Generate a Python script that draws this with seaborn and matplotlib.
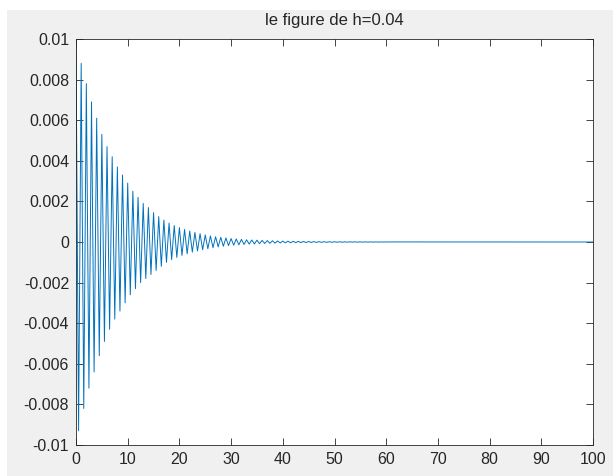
import matplotlib
matplotlib.use("Agg")
import matplotlib.pyplot as plt
from matplotlib.patches import Rectangle
import seaborn as sns
import numpy as np
import pandas as pd

# ---- data: extrema of the damped oscillation ----
peak_t = [0, 1, 2, 3, 4, 5, 6, 7, 8, 9, 10, 11, 12, 13, 14, 15, 16, 17, 18, 19,
          20, 21, 22, 23, 24, 25, 26, 27, 28, 29, 30, 31, 32, 33, 34, 35, 36, 37, 38, 39,
          40, 41, 42, 43, 44, 45, 46, 47, 48, 49, 50, 51, 52, 53, 54, 55, 56, 57, 58, 59, 60]
peak_v = [0.0100, 0.0088, 0.0078, 0.0069, 0.0061, 0.0053, 0.0047, 0.0042, 0.0037, 0.0033,
          0.0029, 0.0025, 0.0022, 0.0019, 0.0017, 0.00145, 0.00125, 0.00108, 0.00093, 0.00081,
          0.00071, 0.00062, 0.00054, 0.00047, 0.00041, 0.00035, 0.00030, 0.00026, 0.00023, 0.00020,
          0.00017, 0.00015, 0.00013, 0.00011, 0.00010, 0.00009, 0.00008, 0.00007, 0.00006, 0.00005,
          0.000045, 0.00004, 0.000035, 0.00003, 0.000027, 0.000024, 0.00002, 0.000018, 0.000016, 0.000014,
          0.000012, 0.00001, 0.000009, 0.000008, 0.000007, 0.000006, 0.000005, 0.000004, 0.000004, 0.000003,
          0.000003]
trough_t = [0.5, 1.5, 2.5, 3.5, 4.5, 5.5, 6.5, 7.5, 8.5, 9.5, 10.5, 11.5, 12.5, 13.5, 14.5,
            15.5, 16.5, 17.5, 18.5, 19.5, 20.5, 21.5, 22.5, 23.5, 24.5, 25.5, 26.5, 27.5, 28.5, 29.5,
            30.5, 31.5, 32.5, 33.5, 34.5, 35.5, 36.5, 37.5, 38.5, 39.5, 40.5, 41.5, 42.5, 43.5, 44.5,
            45.5, 46.5, 47.5, 48.5, 49.5, 50.5, 51.5, 52.5, 53.5, 54.5, 55.5, 56.5, 57.5, 58.5, 59.5]
trough_v = [-0.0093, -0.0082, -0.0072, -0.0064, -0.0056, -0.0049, -0.0043, -0.0038, -0.0034, -0.0030,
            -0.0026, -0.0023, -0.0020, -0.0018, -0.0016, -0.0014, -0.0012, -0.0010, -0.00087, -0.00076,
            -0.00066, -0.00058, -0.0005, -0.00044, -0.00038, -0.00033, -0.00028, -0.00024, -0.00021, -0.00018,
            -0.00016, -0.00014, -0.00012, -0.000105, -0.000095, -0.000085, -0.000075, -0.000065, -0.000055, -0.00005,
            -0.000043, -0.000038, -0.000033, -0.000029, -0.000026, -0.000022, -0.000019, -0.000017, -0.000015, -0.000013,
            -0.000011, -0.0000095, -0.0000085, -0.0000075, -0.0000065, -0.0000055, -0.0000045, -0.000004, -0.0000035, -0.000003]
end_t = [100]
end_v = [0.0]

x_ticks = [0, 10, 20, 30, 40, 50, 60, 70, 80, 90, 100]
y_ticks = [-0.01, -0.008, -0.006, -0.004, -0.002, 0, 0.002, 0.004, 0.006, 0.008, 0.01]
y_tick_labels = ["-0.01", "-0.008", "-0.006", "-0.004", "-0.002", "0",
                 "0.002", "0.004", "0.006", "0.008", "0.01"]
title = "le figure de h=0.04"

df = pd.DataFrame({"t": peak_t + trough_t + end_t, "v": peak_v + trough_v + end_v})
df = df.sort_values("t").reset_index(drop=True)

sns.set_theme(style="white")
plt.rcParams["font.family"] = ["Liberation Sans", "DejaVu Sans"]

W, H = 613, 476
fig = plt.figure(figsize=(W / 100, H / 100), dpi=100, facecolor="#f0f0f0")
# white screenshot margins
fig.add_artist(Rectangle((0, 1 - 10 / H), 1, 10 / H, transform=fig.transFigure,
                         facecolor="white", edgecolor="none", zorder=-1))
fig.add_artist(Rectangle((0, 0), 7 / W, 1, transform=fig.transFigure,
                         facecolor="white", edgecolor="none", zorder=-1))

ax = fig.add_axes([76 / W, 1 - 445 / H, (593 - 76) / W, (445 - 39) / H])
ax.set_facecolor("white")

sns.lineplot(data=df, x="t", y="v", ax=ax, color="#0072BD", linewidth=0.7,
             estimator=None, sort=True)

ax.set_xlim(0, 100)
ax.set_ylim(-0.01, 0.01)
ax.set_xticks(x_ticks)
ax.set_xticklabels([str(v) for v in x_ticks])
ax.set_yticks(y_ticks)
ax.set_yticklabels(y_tick_labels)
ax.set_xlabel("")
ax.set_ylabel("")
ax.set_title(title, fontsize=12, color="#262626", pad=10)

for s in ax.spines.values():
    s.set_visible(True)
    s.set_color("#262626")
    s.set_linewidth(0.6)
ax.tick_params(axis="both", which="both", direction="in", length=5, width=0.6,
               color="#262626", labelsize=11.5, labelcolor="#262626",
               top=True, right=True, bottom=True, left=True, pad=5)

fig.savefig("out.png", dpi=100, facecolor=fig.get_facecolor())
